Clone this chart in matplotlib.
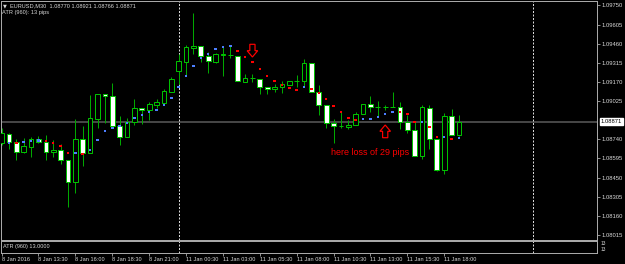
import numpy as np
import matplotlib
matplotlib.use("Agg")
import matplotlib.pyplot as plt
import matplotlib.transforms as mtransforms
from matplotlib.patches import Polygon

# ---------------- data (EURUSD M30, 8 Jan 2016 11:00 -> 11 Jan 2016 19:00) ----------------
opens = [1.08711, 1.08779, 1.08719, 1.08644, 1.08681, 1.08742, 1.08719, 1.08644, 1.08659, 1.08583,
         1.08417, 1.08742, 1.08636, 1.08892, 1.09081, 1.09066, 1.08840, 1.08757, 1.08870, 1.08975,
         1.08960, 1.08998, 1.09013, 1.09096, 1.09254, 1.09322, 1.09428, 1.09443, 1.09368, 1.09322,
         1.09375, 1.09375, 1.09368, 1.09172, 1.09202, 1.09194, 1.09134, 1.09119, 1.09134, 1.09149,
         1.09179, 1.09179, 1.09315, 1.09096, 1.08998, 1.08862, 1.08840, 1.08832, 1.08847, 1.08930,
         1.09006, 1.08983, 1.08983, 1.08983, 1.08983, 1.08870, 1.08809, 1.08613, 1.08975, 1.08742,
         1.08508, 1.08915, 1.08770]
highs = [1.08825, 1.08787, 1.08742, 1.08749, 1.08757, 1.08764, 1.08772, 1.08734, 1.08704, 1.08583,
         1.08892, 1.08840, 1.09073, 1.09081, 1.09081, 1.09164, 1.08915, 1.08900, 1.09043, 1.08975,
         1.09021, 1.09043, 1.09119, 1.09209, 1.09383, 1.09451, 1.09692, 1.09443, 1.09398, 1.09390,
         1.09436, 1.09451, 1.09368, 1.09232, 1.09232, 1.09194, 1.09134, 1.09156, 1.09179, 1.09179,
         1.09224, 1.09345, 1.09315, 1.09149, 1.08998, 1.08892, 1.08945, 1.08885, 1.08945, 1.09006,
         1.09066, 1.09028, 1.08998, 1.09096, 1.09021, 1.08923, 1.08870, 1.08998, 1.08998, 1.08742,
         1.08938, 1.08968, 1.08921]
lows = [1.08696, 1.08666, 1.08583, 1.08636, 1.08606, 1.08711, 1.08583, 1.08606, 1.08553, 1.08229,
        1.08334, 1.08538, 1.08636, 1.08825, 1.08862, 1.08840, 1.08696, 1.08757, 1.08847, 1.08855,
        1.08885, 1.08975, 1.08998, 1.09096, 1.09156, 1.09224, 1.09383, 1.09322, 1.09239, 1.09315,
        1.09217, 1.09353, 1.09179, 1.09172, 1.09172, 1.09081, 1.09081, 1.09096, 1.09089, 1.09149,
        1.09134, 1.09134, 1.09096, 1.08923, 1.08825, 1.08711, 1.08825, 1.08817, 1.08847, 1.08930,
        1.08945, 1.08908, 1.08960, 1.08980, 1.08817, 1.08787, 1.08613, 1.08591, 1.08666, 1.08500,
        1.08478, 1.08772, 1.08766]
closes = [1.08787, 1.08719, 1.08644, 1.08689, 1.08742, 1.08719, 1.08644, 1.08659, 1.08583, 1.08417,
          1.08742, 1.08636, 1.08900, 1.09081, 1.09066, 1.08840, 1.08757, 1.08870, 1.08975, 1.08960,
          1.09006, 1.09021, 1.09104, 1.09194, 1.09330, 1.09436, 1.09443, 1.09368, 1.09330, 1.09383,
          1.09383, 1.09375, 1.09179, 1.09202, 1.09200, 1.09134, 1.09119, 1.09134, 1.09156, 1.09179,
          1.09180, 1.09315, 1.09096, 1.08998, 1.08862, 1.08840, 1.08841, 1.08847, 1.08930, 1.09006,
          1.08983, 1.08984, 1.08982, 1.08984, 1.08870, 1.08809, 1.08613, 1.08983, 1.08742, 1.08508,
          1.08915, 1.08772, 1.08871]

# dotted trend line (indicator), colour code per bar: b = rising, r = falling
trend_values = [np.nan, 1.08711, 1.08711, 1.08719, 1.08726, 1.08730, 1.08726, 1.08711, 1.08689, 1.08636,
                1.08636, 1.08628, 1.08659, 1.08734, 1.08802, 1.08825, 1.08840, 1.08862, 1.08900, 1.08923,
                1.08945, 1.08960, 1.08998, 1.09051, 1.09134, 1.09217, 1.09292, 1.09353, 1.09383, 1.09420,
                1.09436, 1.09443, 1.09405, 1.09360, 1.09322, 1.09269, 1.09217, 1.09179, 1.09149, 1.09126,
                1.09111, 1.09134, 1.09119, 1.09089, 1.09043, 1.08990, 1.08945, 1.08900, 1.08885, 1.08892,
                1.08892, 1.08908, 1.08930, 1.08945, 1.08945, 1.08930, 1.08870, 1.08870, 1.08832, 1.08757,
                1.08757, 1.08742, 1.08749]
trend_dirs = "bbrbbbrrrrbrbbbbbbbbbbbbbbbbbbbbrrrrrrrrrbrrrrrrrbbbbbrrrbrrbrb"

price_ticks = [1.09750, 1.09605, 1.09460, 1.09315, 1.09170, 1.09025,
               1.08740, 1.08595, 1.08450, 1.08305, 1.08160, 1.08015]
time_tick_idx = [0, 5, 10, 15, 20, 25, 30, 35, 40, 45, 50, 55, 60]
time_tick_labels = ["8 Jan 2016", "8 Jan 13:30", "8 Jan 16:00", "8 Jan 18:30", "8 Jan 21:00",
                    "11 Jan 00:30", "11 Jan 03:00", "11 Jan 05:30", "11 Jan 08:00", "11 Jan 10:30",
                    "11 Jan 13:00", "11 Jan 15:30", "11 Jan 18:00"]
day_breaks = [24, 72]

header_symbol = "EURUSD,M30"
header_atr = "ATR (960): 13 pips"
sub_label = "ATR (960) 13.0000"
sub_values = ["13", "13"]

note_text = "here loss of 29 pips"
note_pos = (44.65, 1.08621)
down_arrow_at = (34, 1.09360)
up_arrow_at = (52, 1.08847)

# ---------------- styling ----------------
W, H = 625, 264
BG = "black"
FG = "#d8d8d8"
FRAME = "#a8a8a8"
GREEN_EDGE = "#00c000"
GREEN_WICK = "#00a800"
BLUE = "#4d7fff"
RED = "#ff0000"
FONT = ["Liberation Sans", "DejaVu Sans"]
plt.rcParams["font.family"] = FONT
PX = 72.0 / 100.0  # points per pixel

fig = plt.figure(figsize=(W / 100, H / 100), dpi=100, facecolor=BG)

x_left_px, x_right_px = 1.0, 597.0
bar_step_px, bar0_px = 7.377, 1.6
xlim = ((x_left_px - bar0_px) / bar_step_px, (x_right_px - bar0_px) / bar_step_px)

# main chart
ax = fig.add_axes([x_left_px / W, 1 - 240 / H, (x_right_px - x_left_px) / W, 239 / H])
ax.set_facecolor(BG)
ax.set_xlim(*xlim)
ax.set_ylim(1.079796, 1.097824)

idx = np.arange(len(opens))
o = np.array(opens); c = np.array(closes)
hi = np.array(highs); lo = np.array(lows)
bull = c >= o

ax.vlines(idx, lo, hi, color=GREEN_WICK, lw=1.0 * PX, zorder=3)
ax.bar(idx, np.abs(c - o), bottom=np.minimum(o, c), width=0.64,
       color=np.where(bull, "black", "white"), edgecolor=GREEN_EDGE,
       linewidth=1.0 * PX, zorder=4)

tv = np.array(trend_values)
tcol = [BLUE if d == "b" else RED for d in trend_dirs]
ax.scatter(idx, tv, marker="s", s=(2.5 * PX) ** 2, c=tcol, linewidths=0, zorder=5)

# current price line
ax.axhline(closes[-1], color="#575757", lw=1.6 * PX, zorder=1)

# period separators
for d in day_breaks:
    ax.axvline(d, color=FG, lw=1.0 * PX, ls=(0, (2, 1.5)), zorder=2)

# right price axis
ax.yaxis.tick_right()
ax.set_yticks(price_ticks)
ax.set_yticklabels([f"{p:.5f}" for p in price_ticks])
ax.tick_params(axis="y", colors=FRAME, labelcolor=FG, labelsize=4.2,
               length=2.2, width=0.6, pad=1.2)
ax.set_xticks([])
for s in ax.spines.values():
    s.set_color(FRAME)
    s.set_linewidth(1.0 * PX)

# current price box
bt = mtransforms.blended_transform_factory(ax.transAxes, ax.transData)
ax.annotate(f"{closes[-1]:.5f}", xy=(1.0, closes[-1]), xycoords=bt,
            xytext=(2.6, 0), textcoords="offset points", ha="left", va="center",
            fontsize=4.2, color="black", annotation_clip=False,
            bbox=dict(boxstyle="square,pad=0.18", facecolor="white", edgecolor="white"))

# red annotations
ax.text(note_pos[0], note_pos[1], note_text, color=RED, fontsize=6.5,
        ha="left", va="baseline", zorder=6)

def block_arrow(anchor, down=True):
    sgn = 1 if down else -1
    verts = [(0, 0), (5.3, 6.3), (2.6, 6.3), (2.6, 12.7), (-2.6, 12.7), (-2.6, 6.3), (-5.3, 6.3)]
    verts = [(vx, sgn * vy) for vx, vy in verts]
    tr = mtransforms.Affine2D() + mtransforms.ScaledTranslation(anchor[0], anchor[1], ax.transData)
    ax.add_patch(Polygon(verts, closed=True, fill=False, edgecolor=RED,
                         linewidth=1.2 * PX, transform=tr, zorder=6))

block_arrow(down_arrow_at, down=True)
block_arrow(up_arrow_at, down=False)

# header texts
fig.text(2.5 / W, 1 - 5.8 / H, "\u25BC", color=FG, fontsize=3.6, va="center", ha="left",
         family=["DejaVu Sans"])
fig.text(10 / W, 1 - 5.8 / H,
         f"{header_symbol}  {opens[-1]:.5f} {highs[-1]:.5f} {lows[-1]:.5f} {closes[-1]:.5f}",
         color=FG, fontsize=4.1, va="center", ha="left")
fig.text(2.5 / W, 1 - 12.5 / H, header_atr, color=FG, fontsize=4.1, va="center", ha="left")

# indicator sub-window
ax2 = fig.add_axes([x_left_px / W, 1 - 253 / H, (x_right_px - x_left_px) / W, 12 / H])
ax2.set_facecolor(BG)
ax2.set_xlim(*xlim)
ax2.set_ylim(0, 1)
ax2.set_yticks([])
for d in day_breaks:
    ax2.axvline(d, color=FG, lw=1.0 * PX, ls=(0, (2, 1.5)), zorder=2)
for s in ax2.spines.values():
    s.set_color(FRAME)
    s.set_linewidth(1.0 * PX)
ax2.text(0.004, 0.55, sub_label, transform=ax2.transAxes, color=FG, fontsize=4.0,
         va="center", ha="left")
ax2.text(1.006, 0.78, sub_values[0], transform=ax2.transAxes, color=FG, fontsize=3.4,
         va="center", ha="left")
ax2.text(1.006, 0.30, sub_values[1], transform=ax2.transAxes, color=FG, fontsize=3.4,
         va="center", ha="left")

ax2.set_xticks(time_tick_idx)
ax2.set_xticklabels(time_tick_labels, ha="left")
ax2.tick_params(axis="x", colors=FRAME, labelcolor=FG, labelsize=4.1,
                length=2.0, width=0.6, pad=0.8)

fig.savefig("out.png", dpi=100, facecolor=BG)
